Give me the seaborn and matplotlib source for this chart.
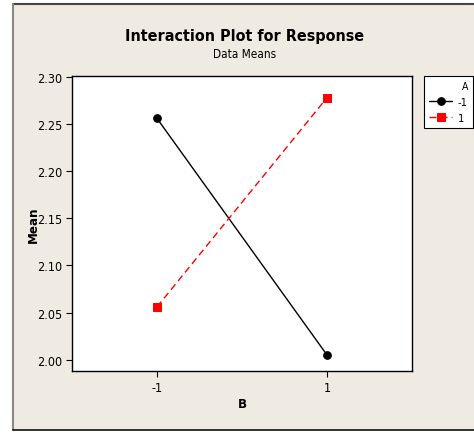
import matplotlib
matplotlib.use("Agg")
import matplotlib.pyplot as plt
import seaborn as sns
import pandas as pd
from matplotlib.patches import Rectangle
from matplotlib.lines import Line2D

levels_B = [-1, 1]
mean_A_neg = [2.256, 2.005]
mean_A_pos = [2.056, 2.278]
yticks = [2.00, 2.05, 2.10, 2.15, 2.20, 2.25, 2.30]

df = pd.DataFrame({
    "B": levels_B * 2,
    "Mean": mean_A_neg + mean_A_pos,
    "A": ["-1"] * 2 + ["1"] * 2,
})

sns.set_style("white")
plt.rcParams["font.family"] = ["DejaVu Sans"]
plt.rcParams["font.stretch"] = "condensed"
for k in ["text.color", "axes.labelcolor", "xtick.color", "ytick.color"]:
    plt.rcParams[k] = "black"

W, H = 474, 435
fig = plt.figure(figsize=(W / 100, H / 100), dpi=100)
fig.patch.set_facecolor("white")
bg = Rectangle((13 / W, 1 - 431 / H), (W - 13) / W, (431 - 5) / H,
               transform=fig.transFigure, facecolor="#EFEBE2", edgecolor="none", zorder=-10)
fig.patches.append(bg)
fig.add_artist(Line2D([13 / W, 1], [1 - 5 / H, 1 - 5 / H], transform=fig.transFigure, color="#444444", lw=1.5))
fig.add_artist(Line2D([13 / W, 13 / W], [1 - 5 / H, 1 - 431 / H], transform=fig.transFigure, color="#888888", lw=1.5))
fig.add_artist(Line2D([13 / W, 1], [1 - 431 / H, 1 - 431 / H], transform=fig.transFigure, color="#111111", lw=1.2))

ax = fig.add_axes([72 / W, 1 - 372 / H, (412 - 72) / W, (372 - 77) / H])
ax.set_facecolor("white")

sns.lineplot(data=df[df.A == "-1"], x="B", y="Mean", ax=ax, color="black", lw=1,
             marker="o", markersize=5.5, markeredgecolor="black", label="-1")
sns.lineplot(data=df[df.A == "1"], x="B", y="Mean", ax=ax, color="#FF0000", lw=1,
             linestyle=(0, (5, 3)), marker="s", markersize=5.5, markeredgecolor="#FF0000", label="1")

ax.set_xlim(-2, 2)
ax.set_ylim(1.988, 2.301)
ax.set_xticks(levels_B)
ax.set_xticklabels(["-1", "1"])
ax.set_yticks(yticks)
ax.set_yticklabels([f"{v:.2f}" for v in yticks])
ax.tick_params(axis="both", length=4, width=0.8, color="black", labelsize=9, direction="out",
               left=True, bottom=True, pad=3)
for s in ax.spines.values():
    s.set_color("black")
    s.set_linewidth(1)
ax.set_xlabel("B", fontsize=9.5, fontweight="bold")
ax.set_ylabel("Mean", fontsize=9.5, fontweight="bold")
ax.xaxis.set_label_coords(0.5, (372 - 405) / 295)
ax.xaxis.label.set_va("center")
ax.yaxis.set_label_coords((33 - 72) / 340, 0.5)
ax.yaxis.label.set_va("center")

fig.text(245 / W, 1 - 37 / H, "Interaction Plot for Response", ha="center", va="center",
         fontsize=11.5, fontweight="bold")
fig.text(245 / W, 1 - 55 / H, "Data Means", ha="center", va="center", fontsize=8.5)

handles, labels = ax.get_legend_handles_labels()
ax.get_legend().remove()
leg = fig.legend(handles, labels, title="A", loc="upper left", bbox_to_anchor=(424 / W, 1 - 77 / H),
                 bbox_transform=fig.transFigure, frameon=True, fancybox=False, fontsize=8,
                 title_fontsize=7.5, handlelength=2.1, borderpad=0.45, labelspacing=0.55,
                 handletextpad=0.5, alignment="right", borderaxespad=0, framealpha=1)
leg.get_frame().set_edgecolor("black")
leg.get_frame().set_linewidth(0.8)
leg.get_frame().set_facecolor("white")

fig.savefig("out.png", dpi=100, facecolor=fig.get_facecolor())
